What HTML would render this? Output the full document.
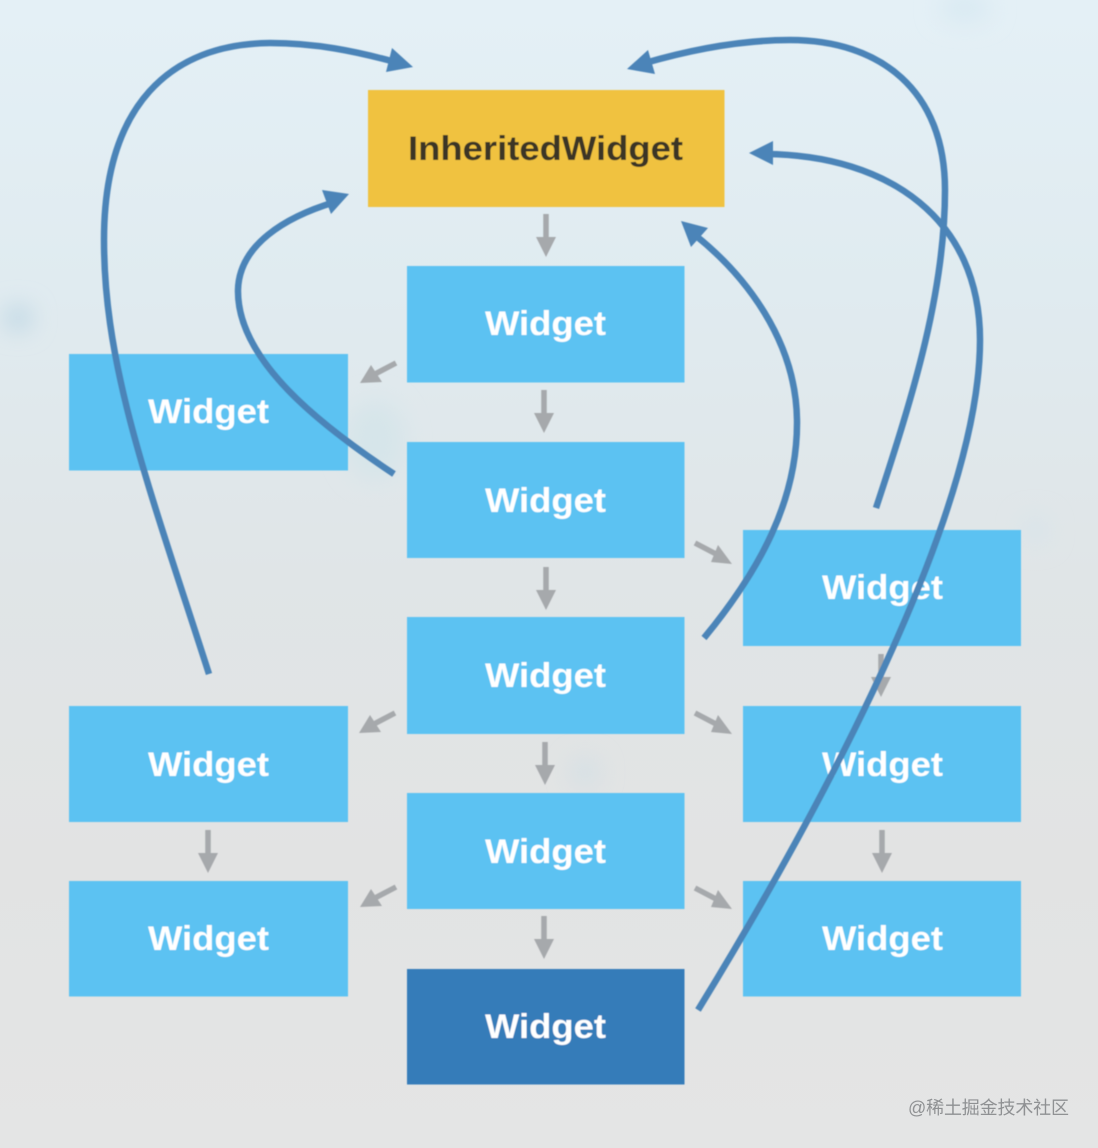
<!DOCTYPE html>
<html>
<head>
<meta charset="utf-8">
<style>
html,body{margin:0;padding:0;width:1098px;height:1148px;overflow:hidden;background:#e2e4e5}
svg{display:block}
text{font-family:"Liberation Sans","Noto Sans CJK SC",sans-serif}
.w{font-size:34px;font-weight:bold;fill:#fff;text-anchor:start}
</style>
</head>
<body>
<svg width="1098" height="1148" viewBox="0 0 1098 1148" xmlns="http://www.w3.org/2000/svg">
<defs>
<linearGradient id="bg" x1="0" y1="0" x2="0" y2="1">
<stop offset="0" stop-color="#e4f0f6"/>
<stop offset="0.25" stop-color="#e0ebf0"/>
<stop offset="0.5" stop-color="#e0e5e7"/>
<stop offset="0.75" stop-color="#e2e3e3"/>
<stop offset="1" stop-color="#e4e5e5"/>
</linearGradient>
<filter id="b" x="-100%" y="-100%" width="300%" height="300%"><feGaussianBlur stdDeviation="12"/></filter>
<filter id="s"><feGaussianBlur stdDeviation="0.6"/></filter>
<g id="dn"><rect x="-2.750" y="0" width="5.500" height="24" fill="#a6a9ac"/><path d="M-10 23H10L0 43Z" fill="#a6a9ac"/></g>
<g id="dl"><path d="M396 363L375 374" stroke="#a6a9ac" stroke-width="5.500" fill="none"/><path d="M371 365L382 382L360 383Z" fill="#a6a9ac"/></g>
<g id="dr"><path d="M695 543L716 554" stroke="#a6a9ac" stroke-width="5.500" fill="none"/><path d="M718 545L711 562L732 564Z" fill="#a6a9ac"/></g>
</defs>
<rect width="1098" height="1148" fill="url(#bg)"/>
<g filter="url(#b)">
<ellipse cx="18" cy="318" rx="14" ry="12" fill="#bcd5e3"/>
<ellipse cx="375" cy="440" rx="30" ry="40" fill="#d6e5ea"/>
<ellipse cx="585" cy="772" rx="14" ry="14" fill="#d3dfe5"/>
<ellipse cx="965" cy="8" rx="26" ry="14" fill="#d8e9f2"/>
<ellipse cx="1035" cy="530" rx="14" ry="14" fill="#d8e4ea"/>
</g>
<g filter="url(#s)">
<rect x="368" y="90" width="356.500" height="117" fill="#f0c23f"/>
<g fill="#5bc2f2">
<rect x="407" y="266" width="277.500" height="116.500"/>
<rect x="407" y="442" width="277.500" height="116"/>
<rect x="407" y="617" width="277.500" height="117"/>
<rect x="407" y="793" width="277.500" height="116"/>
<rect x="69" y="354" width="279" height="116.500"/>
<rect x="69" y="706" width="279" height="116"/>
<rect x="69" y="881" width="279" height="115.500"/>
<rect x="743" y="530" width="278" height="116"/>
<rect x="743" y="706" width="278" height="116"/>
<rect x="743" y="881" width="278" height="115.500"/>
</g>
<rect x="407" y="969" width="277.500" height="115.500" fill="#347bb9"/>

<text x="408" y="160" font-size="34" font-weight="bold" fill="#3a3428" textLength="275" lengthAdjust="spacingAndGlyphs">InheritedWidget</text>
<text class="w" x="485" y="335" textLength="121" lengthAdjust="spacingAndGlyphs">Widget</text>
<text class="w" x="485" y="512" textLength="121" lengthAdjust="spacingAndGlyphs">Widget</text>
<text class="w" x="485" y="687" textLength="121" lengthAdjust="spacingAndGlyphs">Widget</text>
<text class="w" x="485" y="863" textLength="121" lengthAdjust="spacingAndGlyphs">Widget</text>
<text class="w" x="485" y="1038" textLength="121" lengthAdjust="spacingAndGlyphs">Widget</text>
<text class="w" x="148" y="423" textLength="121" lengthAdjust="spacingAndGlyphs">Widget</text>
<text class="w" x="148" y="776" textLength="121" lengthAdjust="spacingAndGlyphs">Widget</text>
<text class="w" x="148" y="950" textLength="121" lengthAdjust="spacingAndGlyphs">Widget</text>
<text class="w" x="822" y="599" textLength="121" lengthAdjust="spacingAndGlyphs">Widget</text>
<text class="w" x="822" y="776" textLength="121" lengthAdjust="spacingAndGlyphs">Widget</text>
<text class="w" x="822" y="950" textLength="121" lengthAdjust="spacingAndGlyphs">Widget</text>

<use href="#dn" x="546" y="214"/>
<use href="#dn" x="544" y="390"/>
<use href="#dn" x="546" y="567"/>
<use href="#dn" x="545" y="742"/>
<use href="#dn" x="544" y="916"/>
<use href="#dn" x="208" y="830"/>
<use href="#dn" x="881" y="654"/>
<use href="#dn" x="882" y="830"/>

<use href="#dl"/>
<use href="#dl" x="-1" y="350"/>
<use href="#dl" x="0" y="524"/>
<use href="#dr"/>
<use href="#dr" y="170"/>
<use href="#dr" y="345"/>

<g fill="none" stroke="#4c84b8" stroke-width="6.500">
<path d="M209 674C150 490 104 370 104 240C104 105 170 44 270 43C315 43 355 51 395 62"/>
<path d="M394 474C320 425 237 360 238 290C239 245 285 217 335 202"/>
<path d="M704 638C760 570 798 500 797 420C796 340 745 275 695 235"/>
<path d="M876 508C915 390 945 290 945 190C945 90 880 40 790 40C740 40 690 50 645 63"/>
<path d="M698 1010C790 860 980 530 980 340C980 220 890 155 765 154"/>
</g>
<g fill="#4c84b8">
<path d="M413 67L386 72L392 48Z"/>
<path d="M349 194L331 214L322 190Z"/>
<path d="M681 221L708 228L691 247Z"/>
<path d="M627 69L648 50L655 74Z"/>
<path d="M749 153L773 141L773 165Z"/>
</g>
</g>
<text x="908" y="1114" font-size="18" fill="#8f9193" textLength="161">@稀土掘金技术社区</text>
</svg>
</body>
</html>
